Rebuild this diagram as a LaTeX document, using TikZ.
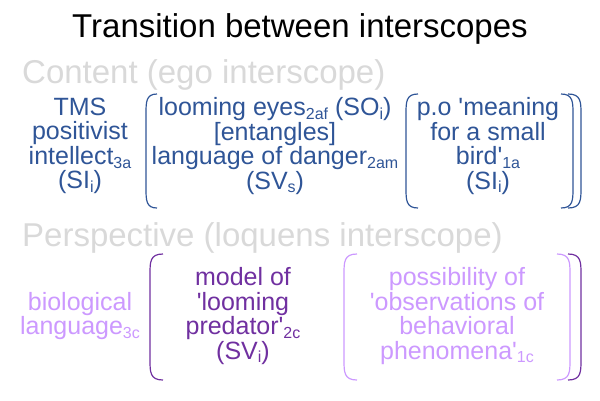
\documentclass[tikz,border=0pt]{standalone}
\usepackage{fontspec}
\setmainfont{Liberation Sans}[Ligatures=TeXOff]
\definecolor{tblue}{RGB}{47,85,151}
\definecolor{dpurp}{RGB}{112,48,160}
\definecolor{lpurp}{RGB}{204,153,255}
\definecolor{hgray}{RGB}{217,217,217}
\newcommand\sbs[1]{\raisebox{-0.15em}{\fontsize{16}{16}\selectfont #1}}
\tikzset{
  titletext/.style={inner sep=0pt, font=\fontsize{33}{36}\selectfont},
  headtext/.style={inner sep=0pt, anchor=west, text=hgray, font=\fontsize{33}{36}\selectfont},
  bodytext/.style={inner sep=0pt, align=center, font=\fontsize{25}{24.5}\selectfont},
  paren/.style={line width=1.2pt},
}
\newcommand\lparen[5]{% color, vertical x, end x, top, bottom
  \draw[paren,#1] (#3,#4) .. controls (#2,#4) and (#2,#4+8) .. (#2,#4+20)
    -- (#2,#5-20) .. controls (#2,#5-8) and (#2,#5) .. (#3,#5);}
\begin{document}
\begin{tikzpicture}[x=1pt,y=-1pt]
\useasboundingbox (0,0) rectangle (600,400);
\node[titletext] (title) at (300,29) {Transition between interscopes};
\node[headtext] (hcontent) at (22,75) {Content (ego interscope)};
\node[headtext] (hpersp) at (22,238) {Perspective (loquens interscope)};

\node[bodytext,text=tblue] (c1) at (80,146) {TMS\\positivist\\intellect\sbs{3a}\\(SI\sbs{i})};
\node[bodytext,text=tblue] (c2) at (275,146) {looming eyes\sbs{2af} (SO\sbs{i})\\{[entangles]}\\language of danger\sbs{2am}\\(SV\sbs{s})};
\node[bodytext,text=tblue] (c3) at (488,146) {p.o 'meaning\\for a small\\bird'\sbs{1a}\\(SI\sbs{i})};

\node[bodytext,text=lpurp] (p1) at (80,316) {biological\\language\sbs{3c}};
\node[bodytext,text=dpurp] (p2) at (243,316) {model of\\'looming\\predator'\sbs{2c}\\(SV\sbs{i})};
\node[bodytext,text=lpurp] (p3) at (457,316) {possibility of\\'observations of\\behavioral\\phenomena'\sbs{1c}};

% top parens
\lparen{tblue}{146}{157}{94}{208}
\lparen{tblue}{406}{418}{94}{208}
\lparen{tblue}{573}{561}{94}{208}
\lparen{tblue}{581}{568}{94}{208}
% bottom parens
\lparen{dpurp}{150}{163}{254}{380}
\lparen{lpurp}{344}{357}{254}{380}
\lparen{lpurp}{570}{557}{254}{380}
\lparen{dpurp}{581}{568}{254}{380}
\end{tikzpicture}
\end{document}
